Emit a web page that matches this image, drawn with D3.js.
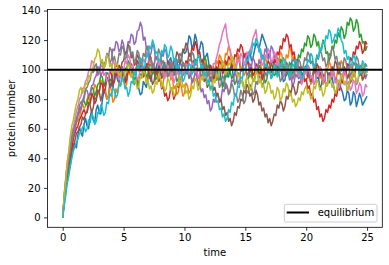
<!DOCTYPE html>
<html><head><meta charset="utf-8">
<script src="https://cdn.jsdelivr.net/npm/d3@7"></script>
<style>body{margin:0;background:#fff}svg{display:block}text{font-family:"DejaVu Sans",sans-serif;fill:#000}</style>
</head><body><svg id="c" width="389" height="265"></svg>
<script>
const time = [0,0.125,0.25,0.375,0.5,0.625,0.75,0.875, 1,1.125,1.25,1.375,1.5,1.625,1.75,1.875, 2,2.125,2.25,2.375,2.5,2.625,2.75,2.875, 3,3.125,3.25,3.375,3.5,3.625,3.75,3.875, 4,4.125,4.25,4.375,4.5,4.625,4.75,4.875, 5,5.125,5.25,5.375,5.5,5.625,5.75,5.875, 6,6.125,6.25,6.375,6.5,6.625,6.75,6.875, 7,7.125,7.25,7.375,7.5,7.625,7.75,7.875, 8,8.125,8.25,8.375,8.5,8.625,8.75,8.875, 9,9.125,9.25,9.375,9.5,9.625,9.75,9.875, 10,10.125,10.25,10.375,10.5,10.625,10.75,10.875, 11,11.125,11.25,11.375,11.5,11.625,11.75,11.875, 12,12.125,12.25,12.375,12.5,12.625,12.75,12.875, 13,13.125,13.25,13.375,13.5,13.625,13.75,13.875, 14,14.125,14.25,14.375,14.5,14.625,14.75,14.875, 15,15.125,15.25,15.375,15.5,15.625,15.75,15.875, 16,16.125,16.25,16.375,16.5,16.625,16.75,16.875, 17,17.125,17.25,17.375,17.5,17.625,17.75,17.875, 18,18.125,18.25,18.375,18.5,18.625,18.75,18.875, 19,19.125,19.25,19.375,19.5,19.625,19.75,19.875, 20,20.125,20.25,20.375,20.5,20.625,20.75,20.875, 21,21.125,21.25,21.375,21.5,21.625,21.75,21.875, 22,22.125,22.25,22.375,22.5,22.625,22.75,22.875, 23,23.125,23.25,23.375,23.5,23.625,23.75,23.875, 24,24.125,24.25,24.375,24.5,24.625,24.75,24.875, 25];

const run1 = [0,12,18,28,31,35,44,50,49,47,56,61,57,55,63,67,62,60,68,72, 66,64,73,76,71,70,79,85,84,80,82,91,90,87,96,99,93,91,99,102, 94,92,98,105,103,99,96,90,92,94,87,83,84,92,90,88,96,98,92,100, 101,99,104,106,98,96,103,105,97,99,106,108,101,98,105,107,99,104,108,113, 111,112,116,123,121,114,117,124,120,111,114,119,117,106,109,111,104,98,99,102, 95,93,100,101,94,90,91,99,97,95,101,104,96,97,103,109,106,99,101,110, 108,105,111,113,106,108,113,118,116,114,119,124,121,118,115,109,111,104,105,106, 99,97,104,106,97,92,93,99,98,95,101,108,106,103,99,94,95,102,100,98, 103,99,97,91,93,101,99,94,95,87,90,97,95,100,98,91,93,95,89,84, 86,91,90,87,84,79,80,86,84,76,78,85,83,75,79,84,81,76,78,80, 82];
const run2 = [0,14,24,33,37,45,50,52,58,64,66,68,72,77,74,75,80,83,78,81, 84,90,88,83,85,93,91,86,87,80,82,89,86,78,80,87,84,91,89,95, 94,88,90,99,97,95,101,98,96,102,99,107,104,96,98,91,93,101,97,104, 102,96,98,99,94,89,91,98,96,103,100,93,95,87,89,83,85,92,88,82, 84,91,89,84,86,94,92,98,97,90,93,101,99,106,103,95,98,92,94,101, 99,106,104,110,108,101,103,111,110,116,113,105,107,101,104,111,109,100,102,96, 98,105,103,95,97,92,94,101,99,107,104,97,100,108,106,100,102,95,97,103, 101,108,106,112,110,102,104,110,108,115,113,107,109,102,104,97,99,93,95,102, 100,94,96,90,92,99,97,104,101,94,96,90,93,101,99,106,103,96,98,93, 95,102,100,106,104,97,99,94,96,103,101,95,97,104,102,97,99,93,95,100, 98];
const run3 = [0,15,26,36,42,47,55,60,63,65,70,74,74,78,79,76,77,82,83,88, 87,82,85,90,91,96,95,89,92,98,97,92,94,100,99,104,103,97,98,93, 95,101,100,106,104,98,99,93,95,89,91,97,96,102,100,95,97,104,103,97, 99,93,95,101,100,106,105,99,101,95,97,103,102,96,98,92,94,100,99,105, 103,97,99,94,96,103,101,107,105,110,108,102,104,109,107,101,103,97,99,93, 95,101,99,93,94,88,90,96,95,101,99,94,96,90,92,98,97,91,93,87, 89,95,94,100,98,92,93,99,97,103,101,95,97,91,93,99,98,104,102,96, 97,103,101,107,106,100,102,96,98,105,103,97,99,106,104,110,108,114,112,118, 116,123,121,115,117,124,122,116,119,112,114,120,118,111,112,106,109,116,114,120, 118,125,122,129,127,121,124,132,130,135,133,126,128,134,131,122,124,118,119,113, 116];
const run4 = [0,13,22,32,38,41,47,54,57,60,62,66,68,71,73,70,71,76,77,84, 82,77,79,86,85,91,90,85,87,94,93,99,97,90,92,98,96,103,101,95, 97,91,93,100,98,104,102,97,99,106,104,99,101,95,97,104,103,110,108,102, 104,97,99,92,94,87,89,82,84,79,81,88,86,80,83,90,88,95,93,100, 99,106,104,111,109,115,113,119,116,110,112,105,107,100,103,96,98,103,101,94, 96,102,100,106,104,97,99,106,103,109,107,101,103,110,109,114,112,117,115,109, 111,104,106,100,102,96,98,104,102,97,99,93,95,102,100,106,104,98,101,107, 105,112,110,116,114,121,119,124,122,115,117,110,112,105,107,100,102,96,98,92, 94,87,89,82,84,78,80,73,75,68,70,65,67,73,71,76,74,80,78,84, 82,88,86,93,91,99,97,104,102,108,106,112,110,116,114,119,117,111,113,119, 117];
const run5 = [0,12,21,30,36,46,52,55,60,66,69,71,74,79,80,86,86,82,84,89, 90,94,96,102,101,96,98,104,105,111,110,104,107,114,113,119,118,112,114,120, 117,110,112,119,118,124,123,117,119,126,127,132,129,120,122,114,116,109,111,117, 115,107,108,102,104,111,109,114,112,104,106,99,101,107,105,97,99,105,103,96, 98,104,102,95,97,91,93,98,96,89,91,85,87,81,83,77,79,72,74,80, 78,84,83,78,80,87,85,91,89,84,86,93,92,98,96,90,93,100,99,105, 103,96,98,104,102,108,106,99,101,106,104,110,108,114,112,107,109,116,114,108, 110,103,105,99,101,95,97,102,100,93,95,89,91,97,95,101,99,92,94,100, 97,103,101,94,96,90,92,99,97,102,100,93,95,89,91,97,95,101,99,93, 94,88,90,97,95,90,92,86,88,95,93,99,97,90,92,98,96,102,100,94, 97];
const run6 = [0,9,19,28,33,40,45,47,52,57,58,61,63,68,66,70,72,78,76,71, 74,81,80,86,85,79,83,90,89,95,94,88,91,98,97,103,102,96,99,105, 106,112,111,117,115,108,110,103,104,110,108,101,103,96,98,103,101,94,96,90, 92,98,97,103,101,94,96,102,99,106,104,98,100,107,106,112,110,104,107,114, 113,118,116,109,111,104,106,99,101,94,96,102,99,92,94,88,90,95,93,86, 88,82,84,78,80,73,75,69,71,65,67,62,65,71,69,75,74,80,79,86, 84,90,88,82,84,78,80,86,83,76,78,72,74,68,70,64,67,62,65,70, 69,76,74,79,77,72,75,82,80,86,84,90,88,83,85,92,91,97,95,102, 101,95,97,92,94,100,98,104,102,96,99,93,95,89,91,98,96,102,100,106, 104,97,99,93,95,102,100,94,97,91,93,100,98,104,102,96,99,93,95,100, 98];
const run7 = [0,16,27,38,44,53,58,61,66,72,75,80,82,87,88,92,94,99,100,106, 105,99,101,96,97,103,102,96,98,92,94,100,99,106,104,98,100,93,95,101, 99,106,104,110,108,101,103,97,99,93,95,101,100,107,105,112,110,104,106,99, 102,109,108,103,105,98,100,94,96,103,101,95,98,91,94,99,97,91,93,99, 98,104,102,97,99,105,104,98,100,94,96,103,101,95,97,91,93,99,98,104, 104,108,112,117,120,125,128,131,122,117,113,109,106,100,101,107,105,111,109,103, 106,112,110,113,116,121,124,127,118,114,110,103,104,110,108,114,112,105,106,112, 110,103,105,99,101,96,98,105,103,97,99,93,95,101,100,95,97,90,93,99, 97,103,101,94,96,90,92,98,96,102,100,93,95,89,91,96,94,100,98,91, 93,87,89,95,94,99,97,90,92,86,88,93,91,84,86,91,89,82,84,90, 88];
const run8 = [0,13,23,33,40,48,53,59,62,67,70,76,78,79,82,87,88,91,93,99, 98,102,104,97,99,104,106,101,103,110,108,115,113,106,109,103,104,111,110,116, 114,107,109,115,116,110,112,105,107,113,111,104,105,111,109,115,113,106,108,101, 103,109,107,114,111,104,106,100,102,96,98,105,103,97,99,106,105,111,109,102, 104,98,100,107,106,112,110,103,105,99,101,95,97,104,102,96,98,92,94,101, 99,93,95,88,90,96,94,87,89,83,85,91,88,82,84,78,80,86,83,77, 79,86,84,90,88,83,85,92,90,96,94,89,91,98,96,102,100,94,97,104, 102,96,98,92,94,101,99,105,103,97,100,94,96,103,101,107,105,99,102,108, 106,112,110,104,106,100,102,109,107,113,111,106,108,102,104,111,109,115,113,107, 109,103,105,99,101,108,106,100,102,96,98,105,103,109,107,101,103,97,99,104, 102];
const run9 = [0,15,25,37,45,55,62,66,72,77,80,86,88,84,86,91,90,96,95,100, 102,107,109,114,112,105,107,101,103,110,108,102,104,97,99,105,103,96,98,92, 94,100,98,104,102,95,97,91,93,87,89,96,94,100,98,91,93,87,89,84, 86,92,90,97,95,88,91,85,87,94,92,86,88,82,84,91,89,96,94,88, 90,84,86,80,82,89,87,94,92,86,88,95,93,99,97,90,92,86,88,93, 91,97,95,102,100,106,104,97,99,105,103,109,107,100,102,95,97,91,93,87, 89,95,93,86,88,94,92,99,97,91,94,88,90,84,86,92,90,84,86,80, 82,88,86,79,81,87,85,91,89,82,84,78,80,75,77,81,79,85,83,87, 89,84,86,80,82,89,87,93,91,86,88,82,84,91,89,95,93,88,90,84, 86,93,91,97,95,90,92,86,88,95,93,99,97,91,93,100,98,104,102,97, 99];
const run10 = [0,8,15,23,28,35,40,45,48,51,53,57,58,61,62,58,60,66,64,70, 68,63,65,71,70,76,74,69,71,78,77,84,82,88,86,81,83,90,89,95, 93,87,88,82,85,92,91,98,96,103,101,108,106,100,103,110,109,116,114,120, 117,111,112,106,107,113,111,117,115,108,110,116,113,106,108,101,103,97,98,92, 94,100,98,104,103,97,99,106,104,110,108,101,103,96,98,91,93,87,89,82, 84,78,79,73,74,68,70,65,67,73,71,78,76,83,82,89,88,95,94,101, 100,107,106,112,111,118,116,121,119,112,114,107,109,102,104,98,100,94,96,103, 101,95,97,104,102,108,106,99,101,95,97,104,102,107,105,98,100,94,96,102, 100,107,105,111,109,102,104,110,108,115,113,119,117,123,121,127,125,118,120,124, 122,128,126,120,118,111,113,107,109,102,104,110,108,101,103,97,99,106,104,98, 101];

const runColors = ["#1f77b4","#ff7f0e","#2ca02c","#d62728","#9467bd","#8c564b","#e377c2","#7f7f7f","#bcbd22","#17becf"];
const xTicks = [0,5,10,15,20,25];
const yTicks = [0,20,40,60,80,100,120,140];
const equilibrium = 100;
const legendLabel = "equilibrium";
const xLabel = "time";
const yLabel = "protein number";

const runs = [run1,run2,run3,run4,run5,run6,run7,run8,run9,run10];

const svg = d3.select("#c");
const L = 47.5, R = 382.3, T = 9.5, B = 227.3;
const x = d3.scaleLinear().domain([-1.25, 26.25]).range([L, R]);
const y = d3.scaleLinear().domain([-6.7, 140.7]).range([B, T]);

svg.append("defs").append("clipPath").attr("id","clip")
  .append("rect").attr("x",L).attr("y",T).attr("width",R-L).attr("height",B-T);

const g = svg.append("g").attr("clip-path","url(#clip)");
const line = d3.line().x((d,i)=>x(time[i])).y(d=>y(d));
runs.forEach((r,k)=>{
  g.append("path").datum(r).attr("d",line)
    .attr("fill","none").attr("stroke",runColors[k])
    .attr("stroke-width",1.5).attr("stroke-linejoin","round");
});
g.append("line").attr("x1",L).attr("x2",R).attr("y1",y(equilibrium)).attr("y2",y(equilibrium))
  .attr("stroke","#000").attr("stroke-width",2);

const xa = svg.append("g").attr("transform",`translate(0,${B})`)
  .call(d3.axisBottom(x).tickValues(xTicks).tickSize(3.5).tickPadding(3.5).tickFormat(d3.format("d")));
const ya = svg.append("g").attr("transform",`translate(${L},0)`)
  .call(d3.axisLeft(y).tickValues(yTicks).tickSize(3.5).tickPadding(3.5).tickFormat(d3.format("d")));
[xa,ya].forEach(a=>{
  a.select(".domain").remove();
  a.selectAll(".tick line").attr("stroke","#000").attr("stroke-width",0.8);
  a.selectAll(".tick text").attr("font-size",10).attr("font-family","DejaVu Sans").attr("fill","#000");
});

svg.append("rect").attr("x",L).attr("y",T).attr("width",R-L).attr("height",B-T)
  .attr("fill","none").attr("stroke","#000").attr("stroke-width",0.8);

svg.append("text").attr("x",(L+R)/2).attr("y",256).attr("text-anchor","middle")
  .attr("font-size",10).text(xLabel);
svg.append("text").attr("transform",`translate(15,${(T+B)/2}) rotate(-90)`)
  .attr("text-anchor","middle").attr("font-size",10).text(yLabel);

const lg = svg.append("g");
lg.append("rect").attr("x",284.3).attr("y",204.3).attr("width",92.7).attr("height",17.7)
  .attr("rx",2).attr("fill","#fff").attr("fill-opacity",0.8)
  .attr("stroke","#cccccc").attr("stroke-width",1);
lg.append("line").attr("x1",286.7).attr("x2",309).attr("y1",212.5).attr("y2",212.5)
  .attr("stroke","#000").attr("stroke-width",2);
lg.append("text").attr("x",317.7).attr("y",216).attr("font-size",10).text(legendLabel);
</script>
</body></html>
